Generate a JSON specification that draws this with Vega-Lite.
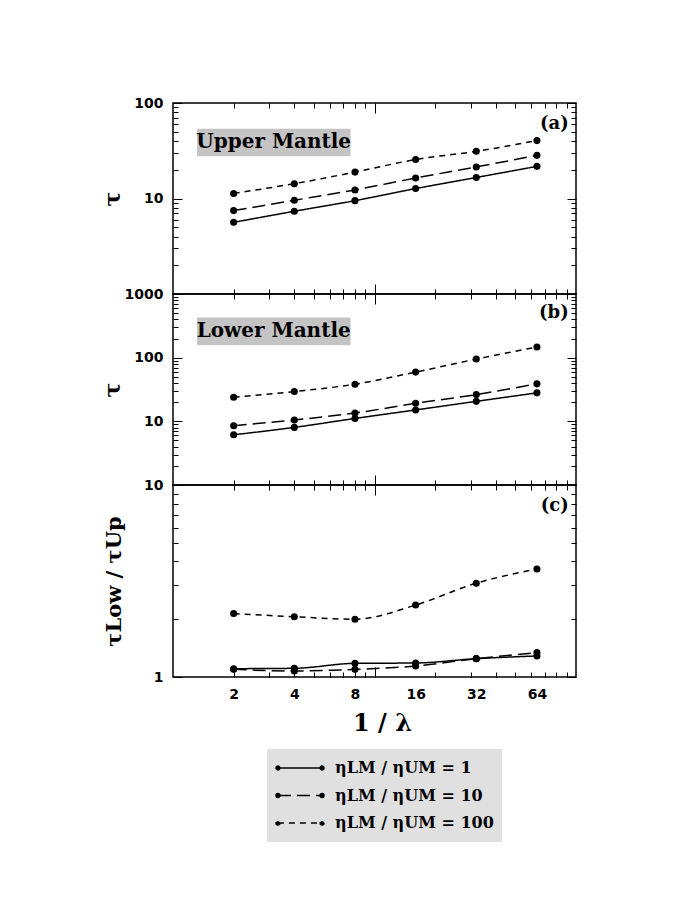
{
  "$schema": "https://vega.github.io/schema/vega-lite/v6.json",
  "background": "white",
  "padding": {"left": 100, "top": 95, "right": 10, "bottom": 10},
  "spacing": 0,
  "bounds": "flush",
  "config": {
    "view": {"stroke": "black", "strokeWidth": 1.5},
    "axis": {"domain": false, "grid": false, "labelFont": "DejaVu Sans", "labelFontWeight": "bold", "labelFontSize": 14, "labelColor": "black", "tickColor": "black", "tickWidth": 1, "titleFont": "DejaVu Serif", "titleFontWeight": "bold", "titleColor": "black"},
    "concat": {"spacing": 0}
  },
  "datasets": {
    "d": [
      {"panel": "a", "x": 2, "y": 5.63, "eta": "ηLM / ηUM = 1"},
      {"panel": "a", "x": 4, "y": 7.35, "eta": "ηLM / ηUM = 1"},
      {"panel": "a", "x": 8, "y": 9.5, "eta": "ηLM / ηUM = 1"},
      {"panel": "a", "x": 16, "y": 12.7, "eta": "ηLM / ηUM = 1"},
      {"panel": "a", "x": 32, "y": 16.6, "eta": "ηLM / ηUM = 1"},
      {"panel": "a", "x": 64, "y": 21.7, "eta": "ηLM / ηUM = 1"},
      {"panel": "a", "x": 2, "y": 7.47, "eta": "ηLM / ηUM = 10"},
      {"panel": "a", "x": 4, "y": 9.58, "eta": "ηLM / ηUM = 10"},
      {"panel": "a", "x": 8, "y": 12.3, "eta": "ηLM / ηUM = 10"},
      {"panel": "a", "x": 16, "y": 16.4, "eta": "ηLM / ηUM = 10"},
      {"panel": "a", "x": 32, "y": 21.4, "eta": "ηLM / ηUM = 10"},
      {"panel": "a", "x": 64, "y": 28.3, "eta": "ηLM / ηUM = 10"},
      {"panel": "a", "x": 2, "y": 11.3, "eta": "ηLM / ηUM = 100"},
      {"panel": "a", "x": 4, "y": 14.3, "eta": "ηLM / ηUM = 100"},
      {"panel": "a", "x": 8, "y": 18.9, "eta": "ηLM / ηUM = 100"},
      {"panel": "a", "x": 16, "y": 25.6, "eta": "ηLM / ηUM = 100"},
      {"panel": "a", "x": 32, "y": 31.2, "eta": "ηLM / ηUM = 100"},
      {"panel": "a", "x": 64, "y": 40.4, "eta": "ηLM / ηUM = 100"},
      {"panel": "b", "x": 2, "y": 6.15, "eta": "ηLM / ηUM = 1"},
      {"panel": "b", "x": 4, "y": 8.03, "eta": "ηLM / ηUM = 1"},
      {"panel": "b", "x": 8, "y": 11.1, "eta": "ηLM / ηUM = 1"},
      {"panel": "b", "x": 16, "y": 15.1, "eta": "ηLM / ηUM = 1"},
      {"panel": "b", "x": 32, "y": 20.6, "eta": "ηLM / ηUM = 1"},
      {"panel": "b", "x": 64, "y": 28.0, "eta": "ηLM / ηUM = 1"},
      {"panel": "b", "x": 2, "y": 8.54, "eta": "ηLM / ηUM = 10"},
      {"panel": "b", "x": 4, "y": 10.5, "eta": "ηLM / ηUM = 10"},
      {"panel": "b", "x": 8, "y": 13.5, "eta": "ηLM / ηUM = 10"},
      {"panel": "b", "x": 16, "y": 19.2, "eta": "ηLM / ηUM = 10"},
      {"panel": "b", "x": 32, "y": 26.3, "eta": "ηLM / ηUM = 10"},
      {"panel": "b", "x": 64, "y": 38.8, "eta": "ηLM / ηUM = 10"},
      {"panel": "b", "x": 2, "y": 23.9, "eta": "ηLM / ηUM = 100"},
      {"panel": "b", "x": 4, "y": 29.4, "eta": "ηLM / ηUM = 100"},
      {"panel": "b", "x": 8, "y": 38.3, "eta": "ηLM / ηUM = 100"},
      {"panel": "b", "x": 16, "y": 59.3, "eta": "ηLM / ηUM = 100"},
      {"panel": "b", "x": 32, "y": 95.1, "eta": "ηLM / ηUM = 100"},
      {"panel": "b", "x": 64, "y": 147, "eta": "ηLM / ηUM = 100"},
      {"panel": "c", "x": 2, "y": 1.105, "eta": "ηLM / ηUM = 1"},
      {"panel": "c", "x": 4, "y": 1.11, "eta": "ηLM / ηUM = 1"},
      {"panel": "c", "x": 8, "y": 1.178, "eta": "ηLM / ηUM = 1"},
      {"panel": "c", "x": 16, "y": 1.183, "eta": "ηLM / ηUM = 1"},
      {"panel": "c", "x": 32, "y": 1.246, "eta": "ηLM / ηUM = 1"},
      {"panel": "c", "x": 64, "y": 1.287, "eta": "ηLM / ηUM = 1"},
      {"panel": "c", "x": 2, "y": 1.096, "eta": "ηLM / ηUM = 10"},
      {"panel": "c", "x": 4, "y": 1.075, "eta": "ηLM / ηUM = 10"},
      {"panel": "c", "x": 8, "y": 1.096, "eta": "ηLM / ηUM = 10"},
      {"panel": "c", "x": 16, "y": 1.141, "eta": "ηLM / ηUM = 10"},
      {"panel": "c", "x": 32, "y": 1.246, "eta": "ηLM / ηUM = 10"},
      {"panel": "c", "x": 64, "y": 1.339, "eta": "ηLM / ηUM = 10"},
      {"panel": "c", "x": 2, "y": 2.14, "eta": "ηLM / ηUM = 100"},
      {"panel": "c", "x": 4, "y": 2.06, "eta": "ηLM / ηUM = 100"},
      {"panel": "c", "x": 8, "y": 2.0, "eta": "ηLM / ηUM = 100"},
      {"panel": "c", "x": 16, "y": 2.37, "eta": "ηLM / ηUM = 100"},
      {"panel": "c", "x": 32, "y": 3.08, "eta": "ηLM / ηUM = 100"},
      {"panel": "c", "x": 64, "y": 3.65, "eta": "ηLM / ηUM = 100"}
    ]
  },
  "resolve": {"scale": {"x": "independent", "y": "independent", "strokeDash": "shared"}, "legend": {"strokeDash": "shared"}},
  "vconcat": [
    {
      "width": 403, "height": 191,
      "data": {"name": "d"},
      "resolve": {"axis": {"x": "independent", "y": "independent"}},
      "layer": [
        {
          "transform": [{"filter": "datum.panel === 'a'"}],
          "mark": {"type": "line", "color": "black", "strokeWidth": 1.5, "interpolate": "monotone"},
          "encoding": {
            "x": {"field": "x", "type": "quantitative", "scale": {"type": "log", "domain": [1, 100], "nice": false},
                  "axis": {"orient": "bottom", "values": [2,3,4,5,6,7,8,9,10,20,30,40,50,60,70,80,90], "labels": false, "title": null, "minExtent": 0, "maxExtent": 0, "tickSize": {"condition": {"test": "datum.value === 10", "value": -10}, "value": -5}}},
            "y": {"field": "y", "type": "quantitative", "scale": {"type": "log", "domain": [1, 100], "nice": false},
                  "axis": {"orient": "left", "values": [10, 100], "ticks": false, "format": "d", "labelPadding": 10, "title": "τ", "titleFontSize": 22, "titleAngle": -90, "titleX": -61, "titleY": 95.5, "titleAlign": "center", "titleBaseline": "middle"}},
            "strokeDash": {"field": "eta", "type": "nominal",
              "scale": {"domain": ["ηLM / ηUM = 1", "ηLM / ηUM = 10", "ηLM / ηUM = 100"], "range": [[1, 0], [13, 6], [6, 5]]},
              "legend": {"orient": "none", "legendX": 94, "legendY": 646, "title": null, "fillColor": "#e0e0e0", "padding": 8, "symbolType": "M-0.92,0H0.92M-1,0a0.08,0.08 0 1,0 0.16,0a0.08,0.08 0 1,0 -0.16,0M0.84,0a0.08,0.08 0 1,0 0.16,0a0.08,0.08 0 1,0 -0.16,0", "symbolSize": 2304, "symbolStrokeWidth": 1.5, "symbolStrokeColor": "black", "symbolFillColor": "black", "labelFont": "DejaVu Serif", "labelFontWeight": "bold", "labelFontSize": 16, "labelColor": "black", "labelLimit": 300, "clipHeight": 22, "rowPadding": 5.5, "labelOffset": 10}}
          }
        },
        {
          "transform": [{"filter": "datum.panel === 'a'"}],
          "mark": {"type": "point", "filled": true, "color": "black", "size": 50, "opacity": 1},
          "encoding": {
            "x": {"field": "x", "type": "quantitative", "axis": {"orient": "top", "values": [2,3,4,5,6,7,8,9,10,20,30,40,50,60,70,80,90], "labels": false, "title": null, "minExtent": 0, "maxExtent": 0, "tickSize": {"condition": {"test": "datum.value === 10", "value": -10}, "value": -5}}},
            "y": {"field": "y", "type": "quantitative", "axis": {"orient": "right", "values": [1,2,3,4,5,6,7,8,9,10,20,30,40,50,60,70,80,90,100], "labels": false, "title": null, "minExtent": 0, "maxExtent": 0, "tickSize": {"condition": {"test": "datum.value === 10 || datum.value === 100", "value": -9}, "value": -5}}}
          }
        },
        {
          "data": {"values": [{"label": "Upper Mantle"}]},
          "mark": {"type": "rect", "color": "#c4c4c4"},
          "encoding": {
            "x": {"datum": 1.316, "type": "quantitative", "axis": null},
            "x2": {"datum": 7.6},
            "y": {"datum": 53.9, "type": "quantitative", "axis": null},
            "y2": {"datum": 27.7}
          }
        },
        {
          "data": {"values": [{"label": "Upper Mantle"}]},
          "mark": {"type": "text", "font": "DejaVu Serif", "fontWeight": "bold", "fontSize": 20, "color": "black", "align": "center", "baseline": "middle"},
          "encoding": {
            "x": {"datum": 3.16, "type": "quantitative", "axis": null},
            "y": {"datum": 38.8, "type": "quantitative", "axis": null},
            "text": {"field": "label"}
          }
        },
        {
          "data": {"values": [{"label": "(a)"}]},
          "mark": {"type": "text", "font": "DejaVu Serif", "fontWeight": "bold", "fontSize": 18, "color": "black", "align": "right", "baseline": "middle"},
          "encoding": {
            "x": {"datum": 92, "type": "quantitative", "axis": null},
            "y": {"datum": 59.8, "type": "quantitative", "axis": {"orient": "left", "values": [1,2,3,4,5,6,7,8,9,10,20,30,40,50,60,70,80,90,100], "labels": false, "title": null, "minExtent": 0, "maxExtent": 0, "tickSize": {"condition": {"test": "datum.value === 10 || datum.value === 100", "value": -9}, "value": -5}}},
            "text": {"field": "label"}
          }
        }
      ]
    },
    {
      "width": 403, "height": 191,
      "data": {"name": "d"},
      "resolve": {"axis": {"x": "independent", "y": "independent"}},
      "layer": [
        {
          "transform": [{"filter": "datum.panel === 'b'"}],
          "mark": {"type": "line", "color": "black", "strokeWidth": 1.5, "interpolate": "monotone"},
          "encoding": {
            "x": {"field": "x", "type": "quantitative", "scale": {"type": "log", "domain": [1, 100], "nice": false},
                  "axis": {"orient": "bottom", "values": [2,3,4,5,6,7,8,9,10,20,30,40,50,60,70,80,90], "labels": false, "title": null, "minExtent": 0, "maxExtent": 0, "tickSize": {"condition": {"test": "datum.value === 10", "value": -10}, "value": -5}}},
            "y": {"field": "y", "type": "quantitative", "scale": {"type": "log", "domain": [1, 1000], "nice": false},
                  "axis": {"orient": "left", "values": [10, 100, 1000], "ticks": false, "format": "d", "labelPadding": 10, "title": "τ", "titleFontSize": 22, "titleAngle": -90, "titleX": -61, "titleY": 95.5, "titleAlign": "center", "titleBaseline": "middle"}},
            "strokeDash": {"field": "eta", "type": "nominal",
              "scale": {"domain": ["ηLM / ηUM = 1", "ηLM / ηUM = 10", "ηLM / ηUM = 100"], "range": [[1, 0], [13, 6], [6, 5]]},
              "legend": {"orient": "none", "legendX": 94, "legendY": 646, "title": null, "fillColor": "#e0e0e0", "padding": 8, "symbolType": "M-0.92,0H0.92M-1,0a0.08,0.08 0 1,0 0.16,0a0.08,0.08 0 1,0 -0.16,0M0.84,0a0.08,0.08 0 1,0 0.16,0a0.08,0.08 0 1,0 -0.16,0", "symbolSize": 2304, "symbolStrokeWidth": 1.5, "symbolStrokeColor": "black", "symbolFillColor": "black", "labelFont": "DejaVu Serif", "labelFontWeight": "bold", "labelFontSize": 16, "labelColor": "black", "labelLimit": 300, "clipHeight": 22, "rowPadding": 5.5, "labelOffset": 10}}
          }
        },
        {
          "transform": [{"filter": "datum.panel === 'b'"}],
          "mark": {"type": "point", "filled": true, "color": "black", "size": 50, "opacity": 1},
          "encoding": {
            "x": {"field": "x", "type": "quantitative", "axis": {"orient": "top", "values": [2,3,4,5,6,7,8,9,10,20,30,40,50,60,70,80,90], "labels": false, "title": null, "minExtent": 0, "maxExtent": 0, "tickSize": {"condition": {"test": "datum.value === 10", "value": -10}, "value": -5}}},
            "y": {"field": "y", "type": "quantitative", "axis": {"orient": "right", "values": [1,2,3,4,5,6,7,8,9,10,20,30,40,50,60,70,80,90,100,200,300,400,500,600,700,800,900,1000], "labels": false, "title": null, "minExtent": 0, "maxExtent": 0, "tickSize": {"condition": {"test": "datum.value === 10 || datum.value === 100 || datum.value === 1000", "value": -9}, "value": -5}}}
          }
        },
        {
          "data": {"values": [{"label": "Lower Mantle"}]},
          "mark": {"type": "rect", "color": "#c4c4c4"},
          "encoding": {
            "x": {"datum": 1.316, "type": "quantitative", "axis": null},
            "x2": {"datum": 7.6},
            "y": {"datum": 428, "type": "quantitative", "axis": null},
            "y2": {"datum": 156}
          }
        },
        {
          "data": {"values": [{"label": "Lower Mantle"}]},
          "mark": {"type": "text", "font": "DejaVu Serif", "fontWeight": "bold", "fontSize": 20, "color": "black", "align": "center", "baseline": "middle"},
          "encoding": {
            "x": {"datum": 3.16, "type": "quantitative", "axis": null},
            "y": {"datum": 260, "type": "quantitative", "axis": null},
            "text": {"field": "label"}
          }
        },
        {
          "data": {"values": [{"label": "(b)"}]},
          "mark": {"type": "text", "font": "DejaVu Serif", "fontWeight": "bold", "fontSize": 18, "color": "black", "align": "right", "baseline": "middle"},
          "encoding": {
            "x": {"datum": 92, "type": "quantitative", "axis": null},
            "y": {"datum": 500, "type": "quantitative", "axis": {"orient": "left", "values": [1,2,3,4,5,6,7,8,9,10,20,30,40,50,60,70,80,90,100,200,300,400,500,600,700,800,900,1000], "labels": false, "title": null, "minExtent": 0, "maxExtent": 0, "tickSize": {"condition": {"test": "datum.value === 10 || datum.value === 100 || datum.value === 1000", "value": -9}, "value": -5}}},
            "text": {"field": "label"}
          }
        }
      ]
    },
    {
      "width": 403, "height": 192,
      "data": {"name": "d"},
      "resolve": {"axis": {"x": "independent", "y": "independent"}},
      "layer": [
        {
          "transform": [{"filter": "datum.panel === 'c'"}],
          "mark": {"type": "line", "color": "black", "strokeWidth": 1.5, "interpolate": "monotone"},
          "encoding": {
            "x": {"field": "x", "type": "quantitative", "scale": {"type": "log", "domain": [1, 100], "nice": false},
                  "axis": {"orient": "bottom", "values": [2, 4, 8, 16, 32, 64], "ticks": false, "format": "d", "labelPadding": 10, "title": "1 / λ", "titleFontSize": 24, "titlePadding": 10, "titleX": 209}},
            "y": {"field": "y", "type": "quantitative", "scale": {"type": "log", "domain": [1, 10], "nice": false},
                  "axis": {"orient": "left", "values": [1, 10], "ticks": false, "format": "d", "labelPadding": 10, "title": "τLow / τUp", "titleFontSize": 21, "titleAngle": -90, "titleX": -59, "titleY": 96, "titleAlign": "center", "titleBaseline": "middle"}},
            "strokeDash": {"field": "eta", "type": "nominal",
              "scale": {"domain": ["ηLM / ηUM = 1", "ηLM / ηUM = 10", "ηLM / ηUM = 100"], "range": [[1, 0], [13, 6], [6, 5]]},
              "legend": {"orient": "none", "legendX": 94, "legendY": 646, "title": null, "fillColor": "#e0e0e0", "padding": 8, "symbolType": "M-0.92,0H0.92M-1,0a0.08,0.08 0 1,0 0.16,0a0.08,0.08 0 1,0 -0.16,0M0.84,0a0.08,0.08 0 1,0 0.16,0a0.08,0.08 0 1,0 -0.16,0", "symbolSize": 2304, "symbolStrokeWidth": 1.5, "symbolStrokeColor": "black", "symbolFillColor": "black", "labelFont": "DejaVu Serif", "labelFontWeight": "bold", "labelFontSize": 16, "labelColor": "black", "labelLimit": 300, "clipHeight": 22, "rowPadding": 5.5, "labelOffset": 10}}
          }
        },
        {
          "transform": [{"filter": "datum.panel === 'c'"}],
          "mark": {"type": "point", "filled": true, "color": "black", "size": 50, "opacity": 1},
          "encoding": {
            "x": {"field": "x", "type": "quantitative", "axis": {"orient": "top", "values": [2,3,4,5,6,7,8,9,10,20,30,40,50,60,70,80,90], "labels": false, "title": null, "minExtent": 0, "maxExtent": 0, "tickSize": {"condition": {"test": "datum.value === 10", "value": -10}, "value": -5}}},
            "y": {"field": "y", "type": "quantitative", "axis": {"orient": "right", "values": [1,2,3,4,5,6,7,8,9,10], "labels": false, "title": null, "minExtent": 0, "maxExtent": 0, "tickSize": {"condition": {"test": "datum.value === 1 || datum.value === 10", "value": -9}, "value": -5}}}
          }
        },
        {
          "data": {"values": [{"label": "(c)"}]},
          "mark": {"type": "text", "font": "DejaVu Serif", "fontWeight": "bold", "fontSize": 18, "color": "black", "align": "right", "baseline": "middle"},
          "encoding": {
            "x": {"datum": 92, "type": "quantitative", "axis": {"orient": "bottom", "values": [2,3,4,5,6,7,8,9,10,20,30,40,50,60,70,80,90], "labels": false, "title": null, "minExtent": 0, "maxExtent": 0, "tickSize": {"condition": {"test": "datum.value === 10", "value": -10}, "value": -5}}},
            "y": {"datum": 7.8, "type": "quantitative", "axis": {"orient": "left", "values": [1,2,3,4,5,6,7,8,9,10], "labels": false, "title": null, "minExtent": 0, "maxExtent": 0, "tickSize": {"condition": {"test": "datum.value === 1 || datum.value === 10", "value": -9}, "value": -5}}},
            "text": {"field": "label"}
          }
        }
      ]
    }
  ]
}
